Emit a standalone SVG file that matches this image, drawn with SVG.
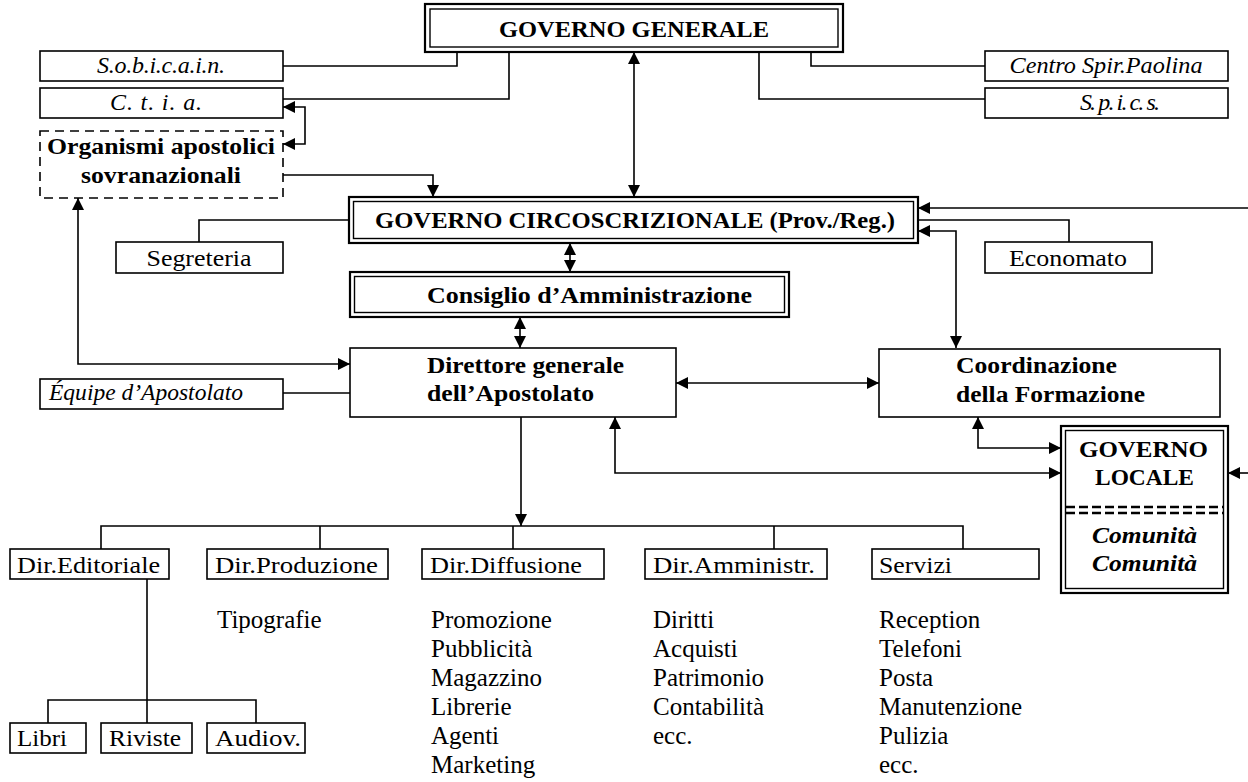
<svg xmlns="http://www.w3.org/2000/svg" width="1248" height="782" viewBox="0 0 1248 782">
  <style>
    text { font-family: "Liberation Serif", "Times New Roman", serif; font-size: 24px; fill: #000; }
    .b { font-weight: bold; }
    .i { font-style: italic; }
    .c { text-anchor: middle; }
    .box { fill: #fff; stroke: #000; stroke-width: 1.6; }
    .dash { fill: #fff; stroke: #000; stroke-width: 1.6; stroke-dasharray: 9 6; }
    .outer { fill: #fff; stroke: #000; stroke-width: 2.2; }
    .inner { fill: none; stroke: #000; stroke-width: 1.4; }
    .sep { stroke: #000; stroke-width: 2.4; stroke-dasharray: 9 4; }
    .list text { font-size: 25px; }
    #connectors path { fill: none; stroke: #000; stroke-width: 1.6; }
    .ar { marker-end: url(#ah); }
    .ar2 { marker-start: url(#ah); marker-end: url(#ah); }
  </style>
  <defs>
    <marker id="ah" markerWidth="12" markerHeight="12" refX="12" refY="6" orient="auto-start-reverse" markerUnits="userSpaceOnUse">
      <path d="M0,0 L12,6 L0,12 z" fill="#000"/>
    </marker>
  </defs>

  <rect width="1248" height="782" fill="#fff"/>

  <!-- connectors -->
  <g id="connectors">
    <path d="M283,66 H457 V52"/>
    <path d="M283,99 H509 V52"/>
    <path d="M985,66 H811 V52"/>
    <path d="M985,99 H759 V52"/>
    <path class="ar2" d="M634,52 V197"/>
    <path class="ar2" d="M283,107 H305 V144 H283"/>
    <path class="ar" d="M283,175 H433 V197"/>
    <path d="M199,242 V220 H349"/>
    <path d="M1069,242 V220 H918"/>
    <path class="ar" d="M1248,208 H918"/>
    <path class="ar2" d="M918,231 H956 V348"/>
    <path class="ar2" d="M570,243 V272"/>
    <path class="ar2" d="M520,317 V348"/>
    <path class="ar2" d="M78,198 V364 H350"/>
    <path d="M283,393 H350"/>
    <path class="ar2" d="M676,383 H879"/>
    <path class="ar2" d="M978,417 V448 H1061"/>
    <path class="ar2" d="M615,417 V473 H1061"/>
    <path class="ar" d="M1248,473 H1228"/>
    <path class="ar" d="M521,417 V526"/>
    <path d="M101,549 V526 H963 V549"/>
    <path d="M320,526 V549"/>
    <path d="M513,526 V549"/>
    <path d="M774,526 V549"/>
    <path d="M147,579 V723"/>
    <path d="M48,723 V700 H256 V723"/>
  </g>

  <!-- top level -->
  <g id="governo-generale">
    <rect class="outer" x="425" y="4" width="418" height="48"/>
    <rect class="inner" x="430" y="9" width="408" height="38"/>
    <text class="b c" x="634" y="37" textLength="270" lengthAdjust="spacingAndGlyphs">GOVERNO GENERALE</text>
  </g>
  <g id="sobicain">
    <rect class="box" x="40" y="51" width="243" height="30"/>
    <text class="i c" x="161" y="73" textLength="128" lengthAdjust="spacing">S.o.b.i.c.a.i.n.</text>
  </g>
  <g id="ctia">
    <rect class="box" x="40" y="88" width="243" height="30"/>
    <text class="i c" x="156" y="110" textLength="92" lengthAdjust="spacing">C. t. i. a.</text>
  </g>
  <g id="centro-spir">
    <rect class="box" x="985" y="51" width="243" height="30"/>
    <text class="i c" x="1106" y="73" textLength="193" lengthAdjust="spacingAndGlyphs">Centro Spir.Paolina</text>
  </g>
  <g id="spics">
    <rect class="box" x="985" y="88" width="243" height="30"/>
    <text class="i c" x="1120" y="110" textLength="80" lengthAdjust="spacing">S. p. i. c. s.</text>
  </g>
  <g id="organismi">
    <rect class="dash" x="40" y="131" width="243" height="67"/>
    <text class="b c" x="161" y="154" textLength="228" lengthAdjust="spacingAndGlyphs">Organismi apostolici</text>
    <text class="b c" x="161" y="183" textLength="160" lengthAdjust="spacingAndGlyphs">sovranazionali</text>
  </g>

  <!-- circumscription level -->
  <g id="governo-circoscrizionale">
    <rect class="outer" x="349" y="197" width="569" height="46"/>
    <rect class="inner" x="353.5" y="201.5" width="560" height="37"/>
    <text class="b c" x="635" y="228" textLength="520" lengthAdjust="spacingAndGlyphs">GOVERNO CIRCOSCRIZIONALE (Prov./Reg.)</text>
  </g>
  <g id="segreteria">
    <rect class="box" x="116" y="242" width="167" height="31"/>
    <text class="c" x="199" y="266" textLength="105" lengthAdjust="spacingAndGlyphs">Segreteria</text>
  </g>
  <g id="economato">
    <rect class="box" x="985" y="242" width="167" height="31"/>
    <text class="c" x="1068" y="266" textLength="118" lengthAdjust="spacingAndGlyphs">Economato</text>
  </g>
  <g id="consiglio">
    <rect class="outer" x="350" y="272" width="439" height="45"/>
    <rect class="inner" x="354.5" y="276.5" width="430" height="36"/>
    <text class="b" x="427" y="303" textLength="325" lengthAdjust="spacingAndGlyphs">Consiglio d’Amministrazione</text>
  </g>
  <g id="direttore">
    <rect class="box" x="350" y="348" width="326" height="69"/>
    <text class="b" x="427" y="373" textLength="197" lengthAdjust="spacingAndGlyphs">Direttore generale</text>
    <text class="b" x="427" y="401" textLength="167" lengthAdjust="spacingAndGlyphs">dell’Apostolato</text>
  </g>
  <g id="equipe">
    <rect class="box" x="40" y="379" width="243" height="30"/>
    <text class="i" x="49" y="400" textLength="194" lengthAdjust="spacingAndGlyphs">Équipe d’Apostolato</text>
  </g>
  <g id="coordinazione">
    <rect class="box" x="879" y="349" width="341" height="68"/>
    <text class="b" x="956" y="373" textLength="161" lengthAdjust="spacingAndGlyphs">Coordinazione</text>
    <text class="b" x="956" y="402" textLength="189" lengthAdjust="spacingAndGlyphs">della Formazione</text>
  </g>
  <g id="governo-locale">
    <rect class="outer" x="1061" y="426" width="167" height="167"/>
    <rect class="inner" x="1065.5" y="430.5" width="158" height="158"/>
    <text class="b c" x="1143.5" y="457" textLength="129" lengthAdjust="spacingAndGlyphs">GOVERNO</text>
    <text class="b c" x="1144.5" y="485" textLength="99" lengthAdjust="spacingAndGlyphs">LOCALE</text>
    <line class="sep" x1="1066" y1="507" x2="1224" y2="507"/>
    <line class="sep" x1="1066" y1="513" x2="1224" y2="513"/>
    <text class="b i c" x="1144.5" y="543" textLength="105" lengthAdjust="spacingAndGlyphs">Comunità</text>
    <text class="b i c" x="1144.5" y="571" textLength="105" lengthAdjust="spacingAndGlyphs">Comunità</text>
  </g>

  <!-- departments -->
  <g id="dir-editoriale">
    <rect class="box" x="10" y="549" width="159" height="30"/>
    <text x="17" y="573" textLength="143" lengthAdjust="spacingAndGlyphs">Dir.Editoriale</text>
  </g>
  <g id="dir-produzione">
    <rect class="box" x="207" y="549" width="181" height="30"/>
    <text x="215" y="573" textLength="163" lengthAdjust="spacingAndGlyphs">Dir.Produzione</text>
  </g>
  <g id="dir-diffusione">
    <rect class="box" x="422" y="549" width="182" height="30"/>
    <text x="430" y="573" textLength="152" lengthAdjust="spacingAndGlyphs">Dir.Diffusione</text>
  </g>
  <g id="dir-amministr">
    <rect class="box" x="645" y="549" width="182" height="30"/>
    <text x="653" y="573" textLength="162" lengthAdjust="spacingAndGlyphs">Dir.Amministr.</text>
  </g>
  <g id="servizi">
    <rect class="box" x="872" y="549" width="167" height="30"/>
    <text x="879" y="573" textLength="73" lengthAdjust="spacingAndGlyphs">Servizi</text>
  </g>
  <g id="libri">
    <rect class="box" x="10" y="723" width="76" height="30"/>
    <text x="17" y="746" textLength="50" lengthAdjust="spacingAndGlyphs">Libri</text>
  </g>
  <g id="riviste">
    <rect class="box" x="101" y="723" width="91" height="30"/>
    <text x="109" y="746" textLength="72" lengthAdjust="spacingAndGlyphs">Riviste</text>
  </g>
  <g id="audiov">
    <rect class="box" x="207" y="723" width="98" height="30"/>
    <text x="215" y="746" textLength="86" lengthAdjust="spacingAndGlyphs">Audiov.</text>
  </g>

  <!-- task lists under each department -->
  <g class="list" id="list-produzione">
    <text x="217" y="628">Tipografie</text>
  </g>
  <g class="list" id="list-diffusione">
    <text x="431" y="628">Promozione</text>
    <text x="431" y="657">Pubblicità</text>
    <text x="431" y="686">Magazzino</text>
    <text x="431" y="715">Librerie</text>
    <text x="431" y="744">Agenti</text>
    <text x="431" y="773">Marketing</text>
  </g>
  <g class="list" id="list-amministr">
    <text x="653" y="628">Diritti</text>
    <text x="653" y="657">Acquisti</text>
    <text x="653" y="686">Patrimonio</text>
    <text x="653" y="715">Contabilità</text>
    <text x="653" y="744">ecc.</text>
  </g>
  <g class="list" id="list-servizi">
    <text x="879" y="628">Reception</text>
    <text x="879" y="657">Telefoni</text>
    <text x="879" y="686">Posta</text>
    <text x="879" y="715">Manutenzione</text>
    <text x="879" y="744">Pulizia</text>
    <text x="879" y="773">ecc.</text>
  </g>
</svg>
